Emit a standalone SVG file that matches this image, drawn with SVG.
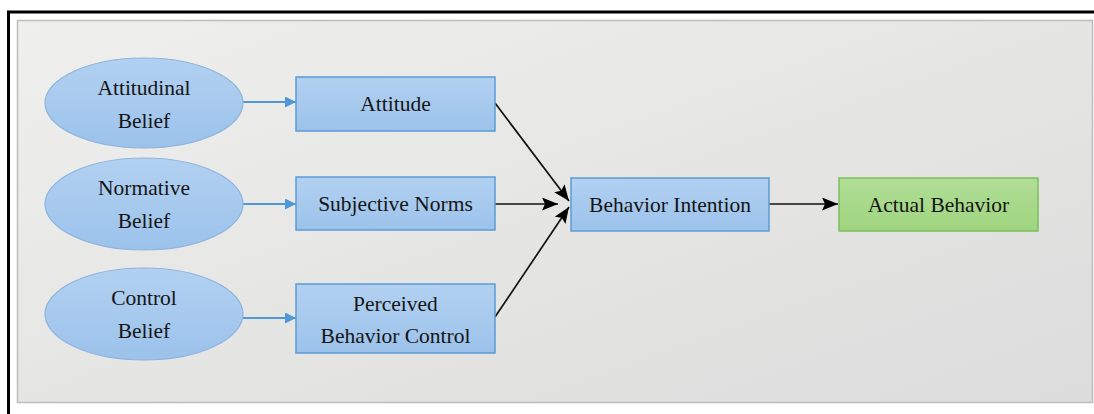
<svg xmlns="http://www.w3.org/2000/svg" width="1094" height="414" viewBox="0 0 1094 414">
  <defs>
    <linearGradient id="panelFill" x1="0" y1="0" x2="1" y2="1">
      <stop offset="0" stop-color="#efefed"/>
      <stop offset="1" stop-color="#dcdcdc"/>
    </linearGradient>
    <linearGradient id="blueFill" x1="0" y1="0" x2="0" y2="1">
      <stop offset="0" stop-color="#b2d1f1"/>
      <stop offset="1" stop-color="#9cc2eb"/>
    </linearGradient>
    <linearGradient id="greenFill" x1="0" y1="0" x2="0" y2="1">
      <stop offset="0" stop-color="#b0de96"/>
      <stop offset="1" stop-color="#9fd47f"/>
    </linearGradient>
    <marker id="arrowBlue" viewBox="0 0 11 11" refX="11" refY="5.5" markerWidth="11" markerHeight="11" markerUnits="userSpaceOnUse" orient="auto">
      <path d="M0,0 L11,5.5 L0,11 z" fill="#4f97d6"/>
    </marker>
    <marker id="arrowBlack" viewBox="0 0 16 13" refX="16" refY="6.5" markerWidth="16" markerHeight="13" markerUnits="userSpaceOnUse" orient="auto">
      <path d="M0,0 L16,6.5 L0,13 L3,6.5 z" fill="#000"/>
    </marker>
  </defs>
  <style>
    .ell { fill: url(#blueFill); stroke: #8db4de; stroke-width: 1.2; }
    .box { fill: url(#blueFill); stroke: #5b9bd5; stroke-width: 1.5; }
    .boxg { fill: url(#greenFill); stroke: #7cbf5a; stroke-width: 1.5; }
    .lbl { font-family: "Liberation Serif", "Times New Roman", serif; font-size: 21.5px; fill: #151515; text-anchor: middle; }
    .cb { stroke: #4f97d6; stroke-width: 2; fill: none; marker-end: url(#arrowBlue); }
    .ck { stroke: #111; stroke-width: 1.7; fill: none; marker-end: url(#arrowBlack); }
  </style>

  <!-- page and frame -->
  <rect x="0" y="0" width="1094" height="414" fill="#ffffff"/>
  <rect x="17.5" y="20.5" width="1075" height="382" fill="url(#panelFill)" stroke="#bdbdbd" stroke-width="1.5"/>
  <path d="M8.5,414 V12 H1094" fill="none" stroke="#000" stroke-width="3"/>

  <!-- connectors -->
  <g id="connectors">
    <line class="cb" x1="243" y1="102" x2="296" y2="102"/>
    <line class="cb" x1="243" y1="204" x2="296" y2="204"/>
    <line class="cb" x1="243" y1="318" x2="296" y2="318"/>
    <line class="ck" x1="495" y1="103" x2="569" y2="201"/>
    <line class="ck" x1="495" y1="204" x2="558" y2="204"/>
    <line class="ck" x1="495" y1="317" x2="569" y2="207"/>
    <line class="ck" x1="769" y1="204" x2="838" y2="204"/>
  </g>

  <!-- belief ellipses -->
  <g id="attitudinal-belief">
    <ellipse class="ell" cx="144" cy="103" rx="99" ry="45"/>
    <text class="lbl" x="144" y="95">Attitudinal</text>
    <text class="lbl" x="144" y="128">Belief</text>
  </g>
  <g id="normative-belief">
    <ellipse class="ell" cx="144" cy="204" rx="99" ry="46"/>
    <text class="lbl" x="144" y="195">Normative</text>
    <text class="lbl" x="144" y="228">Belief</text>
  </g>
  <g id="control-belief">
    <ellipse class="ell" cx="144" cy="314" rx="99" ry="46"/>
    <text class="lbl" x="144" y="305">Control</text>
    <text class="lbl" x="144" y="338">Belief</text>
  </g>

  <!-- construct boxes -->
  <g id="attitude">
    <rect class="box" x="296" y="77" width="199" height="54"/>
    <text class="lbl" x="395.5" y="111">Attitude</text>
  </g>
  <g id="subjective-norms">
    <rect class="box" x="296" y="177" width="199" height="53"/>
    <text class="lbl" x="395.5" y="211">Subjective Norms</text>
  </g>
  <g id="perceived-behavior-control">
    <rect class="box" x="296" y="284" width="199" height="69"/>
    <text class="lbl" x="395.5" y="311">Perceived</text>
    <text class="lbl" x="395.5" y="343">Behavior Control</text>
  </g>
  <g id="behavior-intention">
    <rect class="box" x="571" y="178" width="198" height="53"/>
    <text class="lbl" x="670" y="212">Behavior Intention</text>
  </g>
  <g id="actual-behavior">
    <rect class="boxg" x="839" y="178" width="199" height="53"/>
    <text class="lbl" x="938.5" y="212">Actual Behavior</text>
  </g>
</svg>
